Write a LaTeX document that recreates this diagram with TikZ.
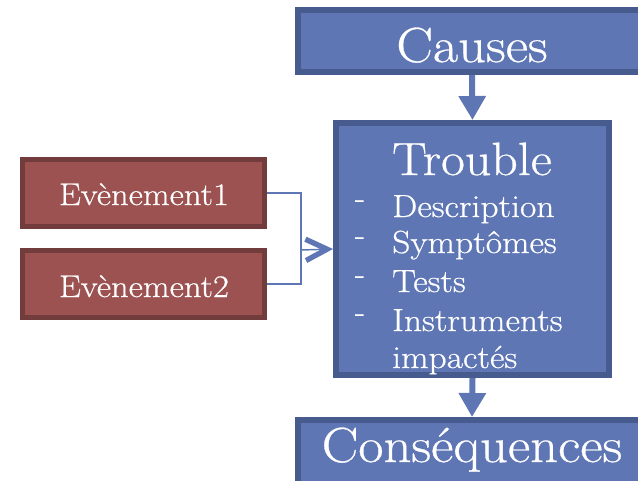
\documentclass[tikz,border=0pt]{standalone}
\usepackage{fontspec}
\setmainfont{Latin Modern Roman}[FakeStretch=1.11,FakeBold=0.6]
\usetikzlibrary{arrows.meta}
\definecolor{bfill}{RGB}{95,118,181}
\definecolor{bdraw}{RGB}{71,91,142}
\definecolor{rfill}{RGB}{157,82,82}
\definecolor{rdraw}{RGB}{115,60,60}
\definecolor{conn}{RGB}{95,118,181}
\tikzset{
  bluebox/.style={draw=bdraw, fill=bfill, line width=4.5pt, inner sep=0pt},
  redbox/.style={draw=rdraw, fill=rfill, line width=3.75pt, inner sep=0pt,
    minimum width=181.5pt, minimum height=50.25pt},
  bigtxt/.style={text=white, inner sep=0pt, anchor=base, font=\fontsize{37}{40}\selectfont},
  evtxt/.style={text=white, inner sep=0pt, anchor=base, font=\fontsize{23.5}{26}\selectfont},
  itemtxt/.style={text=white, inner sep=0pt, anchor=base west, font=\fontsize{24}{27}\selectfont},
  dashtxt/.style={text=white, inner sep=0pt, anchor=center, font=\fontsize{22.5}{25}\selectfont},
  flowarrow/.style={draw=bfill, line width=4.5pt, -{Triangle[length=18pt,width=19.5pt]}},
  thinconn/.style={draw=conn, line width=1.1pt},
  chevarrow/.style={draw=conn, line width=1.1pt, -{Straight Barb[length=16pt,width=16pt,line width=4pt,color=bfill]}}
}
\begin{document}
\begin{tikzpicture}[x=0.75pt,y=-0.75pt]
\useasboundingbox (0,0) rectangle (638,480);
\clip (0,0) rectangle (638,480);
% boxes
\node[bluebox, minimum width=261pt, minimum height=46.5pt] (causes) at (472,41) {};
\node[bluebox, minimum width=204.75pt, minimum height=189pt] (trouble) at (472.5,249) {};
\node[bluebox, minimum width=261pt, minimum height=90pt] (cons) at (472,480) {};
\node[redbox] (ev1) at (143.5,193) {};
\node[redbox] (ev2) at (143.5,284) {};
% texts
\node[bigtxt] (tcauses) at (472,62) {Causes};
\node[bigtxt, font=\fontsize{35}{38}\selectfont] (ttrouble) at (472,175) {Trouble};
\node[bigtxt] (tcons) at (472,462) {Conséquences};
\node[evtxt] (tev1) at (144,205) {Evènement1};
\node[evtxt] (tev2) at (144,297) {Evènement2};
\node[dashtxt] (d1) at (360,204) {-};
\node[dashtxt] (d2) at (360,241) {-};
\node[dashtxt] (d3) at (360,280) {-};
\node[dashtxt] (d4) at (360,318) {-};
\node[itemtxt] (i1) at (392,217) {Description};
\node[itemtxt] (i2) at (392,253) {Symptômes};
\node[itemtxt] (i3) at (392,292) {Tests};
\node[itemtxt] (i4) at (392,331) {Instruments};
\node[itemtxt] (i5) at (392,368) {impactés};
% connectors
\draw[flowarrow] (causes.south) -- (trouble.north);
\draw[flowarrow] (trouble.south) -- (cons.north);
\coordinate (j) at (301,250);
\draw[thinconn] (ev1.east) -| (j);
\draw[thinconn] (ev2.east) -| (j);
\draw[chevarrow] (j) -- (trouble.west);
\end{tikzpicture}
\end{document}
